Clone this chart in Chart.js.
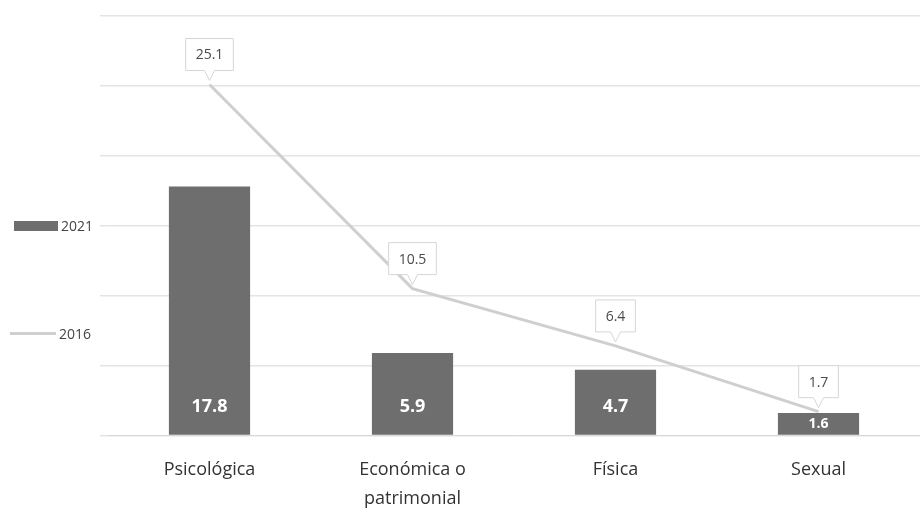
<!DOCTYPE html>
<html>
<head>
<meta charset="utf-8">
<script src="https://cdn.jsdelivr.net/npm/chart.js@4"></script>
<style>
  html, body { margin: 0; padding: 0; background: #ffffff; }
  #wrap { position: relative; width: 920px; height: 529px; font-family: "Open Sans", sans-serif; }
  .legend-item { position: absolute; display: flex; align-items: center; font-size: 14px; color: #444; }
  .swatch-bar { width: 44px; height: 10px; background: #6e6e6e; margin-right: 3px; }
  .swatch-line { width: 46px; height: 3px; background: #cfcfcf; margin-right: 3px; }
</style>
</head>
<body>
<div id="wrap">
  <canvas id="chart" width="920" height="529"></canvas>
  <div class="legend-item" style="left:14px; top:216px;"><span class="swatch-bar"></span>2021</div>
  <div class="legend-item" style="left:10px; top:324px;"><span class="swatch-line"></span>2016</div>
</div>
<script>
// Tipos de violencia (%)
const categories = ['Psicológica', ['Económica o', 'patrimonial'], 'Física', 'Sexual'];
const values2021 = [17.8, 5.9, 4.7, 1.6];
const values2016 = [25.1, 10.5, 6.4, 1.7];

// draws the value labels: white text inside bars, callout boxes over the line
const valueLabels = {
    id: 'valueLabels',
    afterDatasetsDraw(chart) {
        const ctx = chart.ctx;
        const bars = chart.getDatasetMeta(0);
        const line = chart.getDatasetMeta(1);
        ctx.save();

        bars.data.forEach((bar, i) => {
            const h = bar.base - bar.y;
            const big = h > 40;
            ctx.font = (big ? 'bold 18px' : 'bold 14px') + ' "Open Sans", sans-serif';
            ctx.fillStyle = '#ffffff';
            ctx.textAlign = 'center';
            ctx.textBaseline = 'middle';
            const y = big ? bar.base - 28 : bar.base - h / 2;
            ctx.fillText(values2021[i].toFixed(1), bar.x, y);
        });

        line.data.forEach((pt, i) => {
            const txt = values2016[i].toFixed(1);
            ctx.font = '14px "Open Sans", sans-serif';
            const w = ctx.measureText(txt).width + 20;
            const h = 32;
            const bx = pt.x - w / 2;
            const by = pt.y - h - 14;
            ctx.fillStyle = '#ffffff';
            ctx.strokeStyle = '#d6d6d6';
            ctx.lineWidth = 1;
            ctx.beginPath();
            ctx.moveTo(bx, by);
            ctx.lineTo(bx + w, by);
            ctx.lineTo(bx + w, by + h);
            ctx.lineTo(pt.x + 5, by + h);
            ctx.lineTo(pt.x, pt.y - 4);
            ctx.lineTo(pt.x - 5, by + h);
            ctx.lineTo(bx, by + h);
            ctx.closePath();
            ctx.fill();
            ctx.stroke();
            ctx.fillStyle = '#4a4a4a';
            ctx.textAlign = 'center';
            ctx.textBaseline = 'middle';
            ctx.fillText(txt, pt.x, by + h / 2 + 1);
        });
        ctx.restore();
    }
};

new Chart(document.getElementById('chart'), {
    data: {
        labels: categories,
        datasets: [
            {
                type: 'bar',
                label: '2021',
                data: values2021,
                backgroundColor: '#6e6e6e',
                barPercentage: 0.4,
                categoryPercentage: 1,
                order: 1
            },
            {
                type: 'line',
                label: '2016',
                data: values2016,
                borderColor: '#cfcfcf',
                borderWidth: 3,
                pointRadius: 0,
                tension: 0,
                order: 0
            }
        ]
    },
    options: {
        responsive: false,
        animation: false,
        layout: { padding: { left: 100, right: 0, top: 16, bottom: 4 } },
        scales: {
            x: {
                grid: { display: false },
                border: { color: '#d8d8d8' },
                ticks: { color: '#333', font: { family: 'Open Sans', size: 18, lineHeight: 1.6 }, padding: 12 }
            },
            y: {
                min: 0,
                max: 30,
                ticks: { display: false, stepSize: 5 },
                border: { display: false },
                grid: { color: '#e4e4e4', lineWidth: 1.5 }
            }
        },
        plugins: {
            legend: { display: false },
            tooltip: { enabled: false }
        }
    },
    plugins: [valueLabels]
});
</script>
</body>
</html>
